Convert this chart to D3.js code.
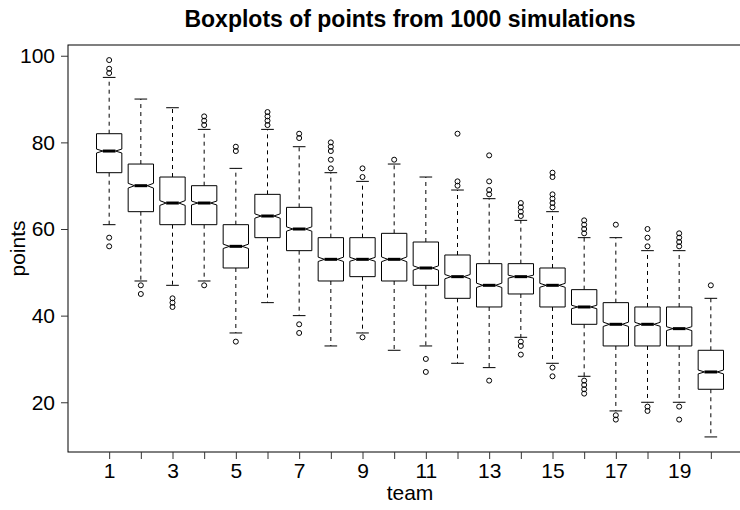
<!DOCTYPE html>
<html>
<head>
<meta charset="utf-8">
<script src="https://cdn.jsdelivr.net/npm/d3@7"></script>
<style>
  html, body { margin: 0; padding: 0; background: #fff; }
  svg { display: block; }
  text { font-family: "Liberation Sans", Arial, Helvetica, sans-serif; fill: #000; }
</style>
</head>
<body>
<svg id="chart" width="740" height="510"></svg>
<script>
// Simulated season points per team: five-number summaries and outliers
const nSims = 1000;
const teams      = [1, 2, 3, 4, 5, 6, 7, 8, 9, 10, 11, 12, 13, 14, 15, 16, 17, 18, 19, 20];
const whiskerLow = [61, 48, 47, 48, 36, 43, 40, 33, 36, 32, 33, 29, 28, 35, 29, 26, 18, 20, 20, 12];
const quart1     = [73, 64, 61, 61, 51, 58, 55, 48, 49, 48, 47, 44, 42, 45, 42, 38, 33, 33, 33, 23];
const medians    = [78, 70, 66, 66, 56, 63, 60, 53, 53, 53, 51, 49, 47, 49, 47, 42, 38, 38, 37, 27];
const quart3     = [82, 75, 72, 70, 61, 68, 65, 58, 58, 59, 57, 54, 52, 52, 51, 46, 43, 42, 42, 32];
const whiskerHigh= [95, 90, 88, 83, 74, 83, 79, 73, 71, 75, 72, 69, 67, 62, 64, 58, 58, 55, 55, 44];
const outliers = [
  [99, 97, 96, 58, 56],
  [47, 45],
  [44, 43, 42],
  [86, 85, 84, 47],
  [79, 78, 34],
  [87, 86, 85, 84],
  [82, 81, 38, 36],
  [80, 79, 78, 76, 74],
  [74, 72, 35],
  [76],
  [30, 27],
  [82, 71, 70],
  [77, 71, 69, 68, 25],
  [66, 65, 64, 63, 34, 33, 31],
  [73, 72, 68, 67, 66, 65, 28, 26],
  [62, 61, 60, 59, 25, 24, 23, 22],
  [61, 17, 16],
  [60, 58, 56, 19, 18],
  [59, 58, 57, 56, 19, 16],
  [47]
];
const yTicks = [20, 40, 60, 80, 100];
const xTickLabels = ["1", "", "3", "", "5", "", "7", "", "9", "", "11", "", "13", "", "15", "", "17", "", "19", ""];

const titleText = "Boxplots of points from " + nSims + " simulations";
const xTitle = "team";
const yTitle = "points";

const svg = d3.select("#chart");
const plot = { left: 68, right: 752, top: 45, bottom: 452 };

// Axis ranges padded by 4% on each side
const allVals = whiskerLow.concat(whiskerHigh, outliers.flat());
const yMin = d3.min(allVals), yMax = d3.max(allVals);
const yPad = (yMax - yMin) * 0.04;
const y = d3.scaleLinear().domain([yMin - yPad, yMax + yPad]).range([plot.bottom, plot.top]);
const xLo = 0.5, xHi = teams.length + 0.5, xPad = (xHi - xLo) * 0.04;
const x = d3.scaleLinear().domain([xLo - xPad, xHi + xPad]).range([plot.left, plot.right]);

const halfW = (x(1.4) - x(1));       // half of box width (boxwex 0.8)
const stapleHalf = halfW * 0.5;
const notchFrac = 0.5;

const data = teams.map((t, i) => {
  const iqr = quart3[i] - quart1[i];
  const ci = 1.58 * iqr / Math.sqrt(nSims);
  return {
    team: t, lo: whiskerLow[i], q1: quart1[i], med: medians[i], q3: quart3[i], hi: whiskerHigh[i],
    confLo: medians[i] - ci, confHi: medians[i] + ci, out: outliers[i]
  };
});

// Frame
svg.append("rect")
  .attr("x", plot.left).attr("y", plot.top)
  .attr("width", plot.right - plot.left).attr("height", plot.bottom - plot.top)
  .attr("fill", "none").attr("stroke", "#000").attr("stroke-width", 1);

// Y axis
const yAxis = d3.axisLeft(y).tickValues(yTicks).tickSize(7).tickPadding(6).tickFormat(d3.format("d"));
const gy = svg.append("g").attr("transform", `translate(${plot.left},0)`).call(yAxis);
gy.select(".domain").remove();
gy.selectAll(".tick line").attr("stroke", "#333");
gy.selectAll(".tick text").style("font-size", "21px").attr("font-family", null);

// X axis
const xAxis = d3.axisBottom(x).tickValues(teams).tickSize(7).tickPadding(4)
  .tickFormat((d, i) => xTickLabels[i]);
const gx = svg.append("g").attr("transform", `translate(0,${plot.bottom})`).call(xAxis);
gx.select(".domain").remove();
gx.selectAll(".tick line").attr("stroke", "#333");
gx.selectAll(".tick text").style("font-size", "21px").attr("font-family", null);

// Boxes
const g = svg.append("g").selectAll("g.box").data(data).join("g").attr("class", "box");

// whiskers (dashed)
g.append("line")
  .attr("x1", d => x(d.team)).attr("x2", d => x(d.team))
  .attr("y1", d => y(d.q3)).attr("y2", d => y(d.hi))
  .attr("stroke", "#000").attr("stroke-dasharray", "4,4");
g.append("line")
  .attr("x1", d => x(d.team)).attr("x2", d => x(d.team))
  .attr("y1", d => y(d.q1)).attr("y2", d => y(d.lo))
  .attr("stroke", "#000").attr("stroke-dasharray", "4,4");
// staples
g.append("line")
  .attr("x1", d => x(d.team) - stapleHalf).attr("x2", d => x(d.team) + stapleHalf)
  .attr("y1", d => y(d.hi)).attr("y2", d => y(d.hi)).attr("stroke", "#000");
g.append("line")
  .attr("x1", d => x(d.team) - stapleHalf).attr("x2", d => x(d.team) + stapleHalf)
  .attr("y1", d => y(d.lo)).attr("y2", d => y(d.lo)).attr("stroke", "#000");

// notched box outline
g.append("polygon")
  .attr("points", d => {
    const cx = x(d.team);
    const xs = [-1, 1, 1, notchFrac, 1, 1, -1, -1, -notchFrac, -1].map(f => cx + f * halfW);
    const ys = [d.q1, d.q1, d.confLo, d.med, d.confHi, d.q3, d.q3, d.confHi, d.med, d.confLo].map(v => y(v));
    return xs.map((v, k) => v + "," + ys[k]).join(" ");
  })
  .attr("fill", "#fff").attr("stroke", "#000").attr("stroke-width", 1);

// median
g.append("line")
  .attr("x1", d => x(d.team) - halfW * notchFrac).attr("x2", d => x(d.team) + halfW * notchFrac)
  .attr("y1", d => y(d.med)).attr("y2", d => y(d.med))
  .attr("stroke", "#000").attr("stroke-width", 3);

// outliers
g.selectAll("circle").data(d => d.out.map(v => ({ team: d.team, v })))
  .join("circle")
  .attr("cx", d => x(d.team)).attr("cy", d => y(d.v)).attr("r", 2.5)
  .attr("fill", "none").attr("stroke", "#000").attr("stroke-width", 1);

// Titles
svg.append("text").attr("x", (plot.left + plot.right) / 2).attr("y", 27)
  .attr("text-anchor", "middle").style("font-size", "23px").style("font-weight", "bold")
  .text(titleText);
svg.append("text").attr("x", (plot.left + plot.right) / 2).attr("y", 500)
  .attr("text-anchor", "middle").style("font-size", "21px").text(xTitle);
svg.append("text")
  .attr("transform", `translate(25,${(plot.top + plot.bottom) / 2}) rotate(-90)`)
  .attr("text-anchor", "middle").style("font-size", "21px").text(yTitle);
</script>
</body>
</html>
